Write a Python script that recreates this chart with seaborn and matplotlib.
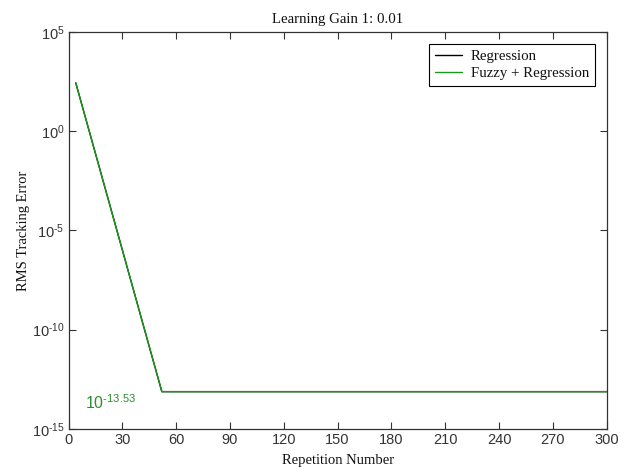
import matplotlib
matplotlib.use("Agg")
import matplotlib.pyplot as plt
import matplotlib.ticker as mticker
import seaborn as sns
import pandas as pd
import numpy as np

# ---- data ----
repetitions = [4, 52, 300]
regression = [10**2.43, 10**-13.12, 10**-13.12]
fuzzy_regression = [10**2.43, 10**-13.12, 10**-13.12]
series_names = ["Regression", "Fuzzy + Regression"]
x_ticks = [0, 30, 60, 90, 120, 150, 180, 210, 240, 270, 300]
y_tick_exponents = [-15, -10, -5, 0, 5]
annotation_text = r"$\mathrm{10^{\text{-}13.53}}$"

sns.set_style("white")
plt.rcParams['font.family'] = ['Liberation Serif', 'DejaVu Serif']
plt.rcParams['mathtext.fontset'] = 'custom'
plt.rcParams['mathtext.rm'] = 'Liberation Sans'
plt.rcParams['mathtext.it'] = 'Liberation Sans:italic'
plt.rcParams['mathtext.bf'] = 'Liberation Sans:bold'
plt.rcParams['mathtext.default'] = 'rm'

def exp_label(e):
    s = str(e).replace("-", r"\text{-}")
    return r"$\mathrm{10^{%s}}$" % s

df = pd.DataFrame({
    "rep": repetitions * 2,
    "err": regression + fuzzy_regression,
    "series": [series_names[0]] * len(repetitions) + [series_names[1]] * len(repetitions),
})

fig = plt.figure(figsize=(6.29, 4.69), dpi=100)
ax = fig.add_axes([0.109, 0.0853, 0.8555, 0.8471])

sns.lineplot(data=df, x="rep", y="err", hue="series",
             palette={series_names[0]: "black", series_names[1]: "#1a9a1a"},
             linewidth=1.0, ax=ax, legend=True, estimator=None, sort=False)

ax.set_yscale("log")
ax.set_xlim(0, 300)
ax.set_ylim(1e-15, 1e5)
ax.set_xticks(x_ticks)
ax.set_xticklabels([str(t) for t in x_ticks], family='Liberation Sans', fontsize=10.5, color='#333333')
ax.set_yticks([10.0**e for e in y_tick_exponents])
ax.set_yticklabels([exp_label(e) for e in y_tick_exponents], fontsize=10.5, color='#333333')
ax.yaxis.set_minor_locator(mticker.NullLocator())

ax.tick_params(direction='in', length=5, width=0.8, top=True, right=True,
               bottom=True, left=True, pad=3, colors='#333333', labelcolor='#333333')
for s in ax.spines.values():
    s.set_color('#333333')
    s.set_linewidth(0.9)
    s.set_visible(True)

ax.set_xlabel("Repetition Number", fontsize=10.5, labelpad=5, color='#111111')
ax.set_ylabel("RMS Tracking Error", fontsize=10.5, labelpad=1, color='#111111')
ax.set_title("Learning Gain 1: 0.01", fontsize=10.7, pad=6, color='#111111')

ax.text(9, 10**-14.0, annotation_text, color='#2a8f2a', fontsize=11.5, va='baseline', ha='left')

handles, labels = ax.get_legend_handles_labels()
leg = ax.legend(handles, labels, loc='upper right', fontsize=10.7, frameon=True,
                fancybox=False, edgecolor='black', framealpha=1,
                borderaxespad=0.8, handlelength=1.8, handletextpad=0.6,
                borderpad=0.4, labelspacing=0.25)
leg.get_frame().set_linewidth(0.8)
for t in leg.get_texts():
    t.set_color('#111111')

fig.savefig("out.png", dpi=100, facecolor='white')
